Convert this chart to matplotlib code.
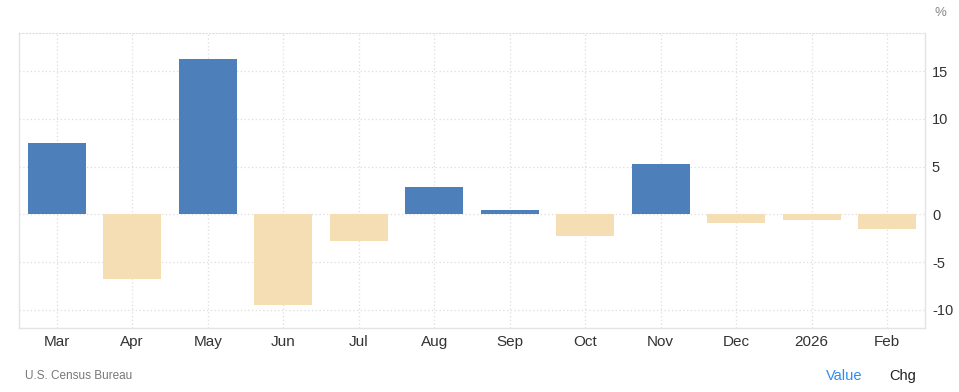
import matplotlib.pyplot as plt
import numpy as np

plt.rcParams['font.family'] = ['Liberation Sans', 'DejaVu Sans']

months = ["Mar", "Apr", "May", "Jun", "Jul", "Aug", "Sep", "Oct", "Nov", "Dec", "2026", "Feb"]
chg = [7.5, -6.8, 16.3, -9.5, -2.8, 2.9, 0.5, -2.3, 5.3, -0.9, -0.6, -1.5]
yticks = [-10, -5, 0, 5, 10, 15]

blue = "#4d80bb"
tan = "#f5deb3"
grid = "#dddddd"

fig = plt.figure(figsize=(9.59, 3.92), dpi=100)
ax = fig.add_axes([0.0198, 0.1633, 0.9447, 0.7525])

x = np.arange(len(months))
colors = [blue if v >= 0 else tan for v in chg]
ax.bar(x, chg, width=0.77, color=colors, zorder=2)

ax.set_xlim(-0.5, len(months) - 0.5)
ax.set_ylim(-11.9, 19.0)
ax.set_xticks(x)
ax.set_xticklabels(months, fontsize=11, color="#333333")
ax.set_yticks(yticks)
ax.set_yticklabels([str(t) for t in yticks], fontsize=10.5, color="#333333")
ax.yaxis.tick_right()
ax.tick_params(axis="both", length=0)
ax.tick_params(axis="x", pad=5)
ax.tick_params(axis="y", pad=5)

ax.grid(True, linestyle=(0, (1, 2)), color=grid, linewidth=0.9, zorder=0)

for s in ["left", "right", "bottom"]:
    ax.spines[s].set_color("#e3e3e3")
    ax.spines[s].set_linewidth(1)
ax.spines["top"].set_linestyle((0, (1, 2)))
ax.spines["top"].set_color(grid)

fig.text(0.981, 0.968, "%", fontsize=9.5, color="#888888", ha="center", va="center")
fig.text(0.026, 0.042, "U.S. Census Bureau", fontsize=8.5, color="#777777", ha="left", va="center")
fig.text(0.880, 0.042, "Value", fontsize=10.5, color="#2d8cf0", ha="center", va="center")
fig.text(0.941, 0.042, "Chg", fontsize=10.5, color="#222222", ha="center", va="center")

fig.savefig("out.png", dpi=100)
